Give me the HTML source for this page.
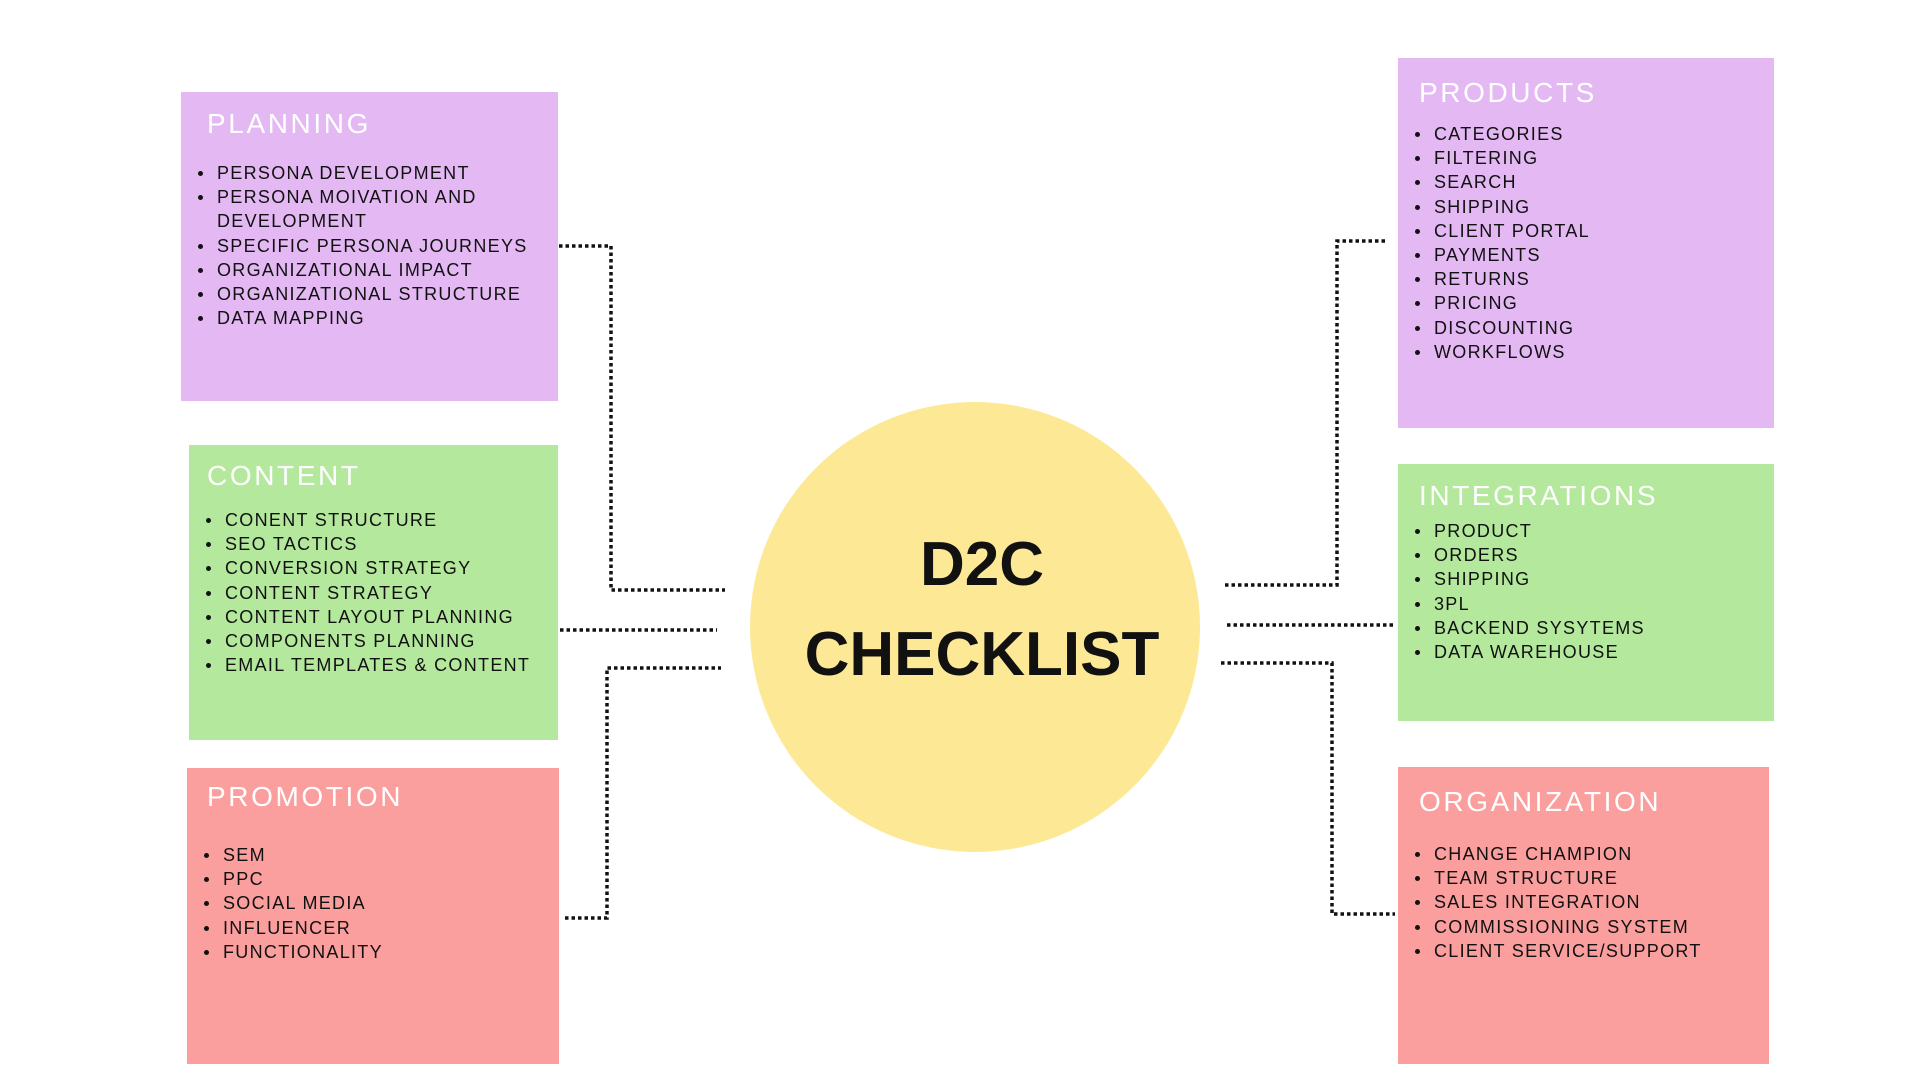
<!DOCTYPE html>
<html><head><meta charset="utf-8"><style>
body{margin:0;width:1920px;height:1080px;background:#fff;position:relative;overflow:hidden;font-family:"Liberation Sans",sans-serif}
.box{position:absolute}
.h{position:absolute;color:#fff;font-size:28px;letter-spacing:2.6px;line-height:30px}
.l{position:absolute;font-size:18px;letter-spacing:1.3px;color:#111;line-height:24.2px;margin:0;padding:0;list-style:none}
.l li{position:relative;white-space:nowrap}
.l li:before{content:"";position:absolute;left:-19px;top:10px;width:5px;height:5px;border-radius:50%;background:#111}
.p{background:#e3b8f3}.g{background:#b4e89c}.r{background:#fa9e9e}
</style></head><body>
<div class="box p" style="left:181px;top:92px;width:377px;height:309px"></div>
<div class="box g" style="left:189px;top:445px;width:369px;height:295px"></div>
<div class="box r" style="left:187px;top:768px;width:372px;height:296px"></div>
<div class="box p" style="left:1398px;top:58px;width:376px;height:370px"></div>
<div class="box g" style="left:1398px;top:464px;width:376px;height:257px"></div>
<div class="box r" style="left:1398px;top:767px;width:371px;height:297px"></div>
<div style="position:absolute;left:750px;top:402px;width:450px;height:450px;border-radius:50%;background:#fde995"></div>
<div style="position:absolute;left:750px;top:520px;width:464px;text-align:center;font-weight:bold;font-size:62px;line-height:90px;color:#111">D2C<br>CHECKLIST</div>
<svg width="1920" height="1080" style="position:absolute;left:0;top:0" fill="none" stroke="#111" stroke-width="3.5" stroke-dasharray="3.5 3">
<polyline points="559,246 611,246 611,590 725,590"/>
<polyline points="560,630 717,630"/>
<polyline points="565,918 607,918 607,668 721,668"/>
<polyline points="1225,585 1337,585 1337,241 1386,241"/>
<polyline points="1227,625 1395,625"/>
<polyline points="1221,663 1332,663 1332,914 1395,914"/>
</svg>
<div class="h" style="left:207px;top:109px">PLANNING</div>
<ul class="l" style="left:217px;top:161px">
<li>PERSONA DEVELOPMENT</li><li>PERSONA MOIVATION AND<br>DEVELOPMENT</li><li>SPECIFIC PERSONA JOURNEYS</li><li>ORGANIZATIONAL IMPACT</li><li>ORGANIZATIONAL STRUCTURE</li><li>DATA MAPPING</li></ul>
<div class="h" style="left:207px;top:461px">CONTENT</div>
<ul class="l" style="left:225px;top:508px">
<li>CONENT STRUCTURE</li><li>SEO TACTICS</li><li>CONVERSION STRATEGY</li><li>CONTENT STRATEGY</li><li>CONTENT LAYOUT PLANNING</li><li>COMPONENTS PLANNING</li><li>EMAIL TEMPLATES &amp; CONTENT</li></ul>
<div class="h" style="left:207px;top:782px">PROMOTION</div>
<ul class="l" style="left:223px;top:843px">
<li>SEM</li><li>PPC</li><li>SOCIAL MEDIA</li><li>INFLUENCER</li><li>FUNCTIONALITY</li></ul>
<div class="h" style="left:1419px;top:78px">PRODUCTS</div>
<ul class="l" style="left:1434px;top:122px">
<li>CATEGORIES</li><li>FILTERING</li><li>SEARCH</li><li>SHIPPING</li><li>CLIENT PORTAL</li><li>PAYMENTS</li><li>RETURNS</li><li>PRICING</li><li>DISCOUNTING</li><li>WORKFLOWS</li></ul>
<div class="h" style="left:1419px;top:481px">INTEGRATIONS</div>
<ul class="l" style="left:1434px;top:519px">
<li>PRODUCT</li><li>ORDERS</li><li>SHIPPING</li><li>3PL</li><li>BACKEND SYSYTEMS</li><li>DATA WAREHOUSE</li></ul>
<div class="h" style="left:1419px;top:787px">ORGANIZATION</div>
<ul class="l" style="left:1434px;top:842px">
<li>CHANGE CHAMPION</li><li>TEAM STRUCTURE</li><li>SALES INTEGRATION</li><li>COMMISSIONING SYSTEM</li><li>CLIENT SERVICE/SUPPORT</li></ul>
</body></html>
